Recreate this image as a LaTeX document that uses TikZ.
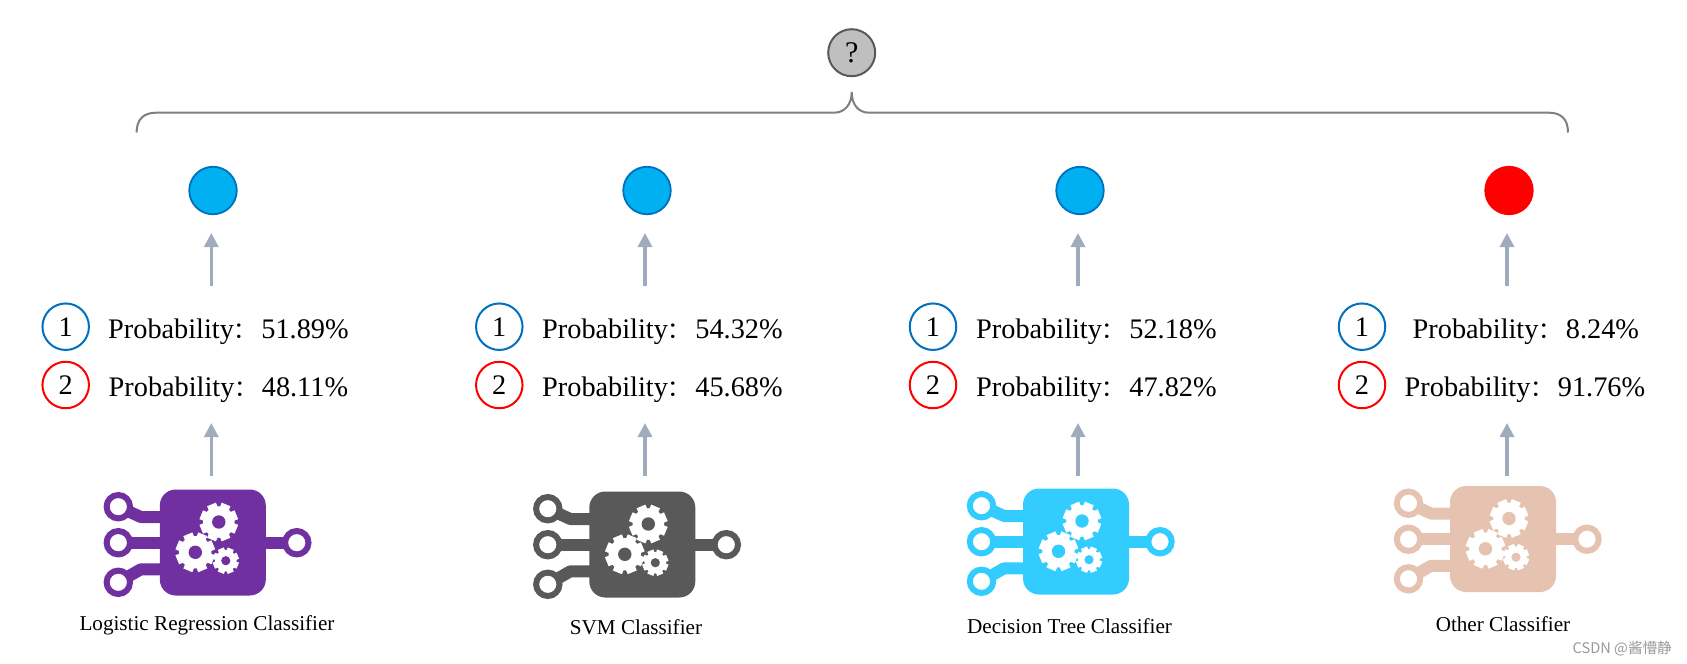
\documentclass[tikz,border=0pt]{standalone}
\usepackage{fontspec}
\setmainfont{Liberation Serif}
\newfontfamily\cjkfont{Noto Sans CJK SC}
\usetikzlibrary{arrows.meta}
\definecolor{arrowgray}{HTML}{A0ACBD}
\definecolor{ringblue}{HTML}{0070C0}
\definecolor{dotblue}{HTML}{00B0F0}
\definecolor{bracegray}{HTML}{7F7F7F}
\definecolor{iconpurple}{HTML}{7030A0}
\definecolor{icongray}{HTML}{595959}
\definecolor{iconblue}{HTML}{33CCFF}
\definecolor{iconbeige}{HTML}{E6C3B0}
\tikzset{
  x=1pt,y=-1pt,
  flow/.style={draw=arrowgray,line width=3.2pt,-{Triangle[width=14pt,length=14pt]}},
  numcirc/.style={circle,minimum size=46.5pt,inner sep=0pt,line width=2pt,font=\fontsize{28.3}{32}\selectfont},
  dot/.style={circle,minimum size=47.5pt,inner sep=0pt,line width=1.8pt},
  probtext/.style={anchor=base west,inner sep=0pt,font=\fontsize{28.3}{32}\selectfont},
  lbl/.style={inner sep=0pt,font=\fontsize{21.15}{25}\selectfont},
}
\newcommand{\prob}[1]{Probability\makebox[27.4pt][l]{\raisebox{-0.5pt}{\cjkfont\fontsize{23}{26}\selectfont ：}}#1}
\newcommand{\onegear}[5]{% x y r hole col
  \fill[white] (#1,#2) circle[radius=#3*0.83];
  \foreach \a in {0,45,...,315}
    \draw[white,line width=#3*0.5pt] (#1,#2) -- ++(\a+22.5:#3);
  \fill[#5] (#1,#2) circle[radius=#4];
}
\newcommand{\clficon}[3]{% x y colour
  \begin{scope}[shift={(#1,#2)}]
    \draw[#3,line width=12pt,line join=round] (-94.5,-35.8) -- (-72,-25.5) -- (-50,-25.5);
    \draw[#3,line width=12pt] (-94.5,0.2) -- (-50,0.2);
    \draw[#3,line width=12pt,line join=round] (-94.5,39.8) -- (-72,26.8) -- (-50,26.8);
    \draw[#3,line width=12pt] (50,0.2) -- (84,0.2);
    \fill[#3,rounded corners=16pt] (-53,-53) rectangle (53,53);
    \foreach \p in {(-94.5,-35.8),(-94.5,0.2),(-94.5,39.8),(84,0.2)}
      \draw[#3,line width=6pt,fill=white] \p circle[radius=11.7];
    \onegear{6}{-20.5}{19}{6.7}{#3}
    \onegear{-17.5}{9.8}{19.5}{6.7}{#3}
    \onegear{13}{18.2}{13}{4.6}{#3}
  \end{scope}
}
\begin{document}
\begin{tikzpicture}
\useasboundingbox (0,0) rectangle (1687,664);
% question node and brace
\node[circle,minimum size=47pt,inner sep=0pt,draw=black!65,line width=2pt,fill=black!25,font=\fontsize{30}{34}\selectfont] (q) at (851.7,52.7) {?};
\coordinate (bl) at (136.6,132.5);
\coordinate (br) at (1568,132.5);
\coordinate (bt) at (851.7,92);
\draw[bracegray,line width=2pt] (bl) .. controls (136.6,119) and (144,112.7) .. (156,112.7)
  -- (834,112.7) .. controls (845,112.7) and (851.7,104) .. (bt)
  .. controls (851.7,104) and (858,112.7) .. (869,112.7)
  -- (1549,112.7) .. controls (1561,112.7) and (1568,119) .. (br);
% result dots
\node[dot,draw=ringblue,fill=dotblue] (d1) at (213,190.5) {};
\node[dot,draw=ringblue,fill=dotblue] (d2) at (647,190.5) {};
\node[dot,draw=ringblue,fill=dotblue] (d3) at (1080,190.5) {};
\node[dot,draw=red,fill=red] (d4) at (1509,190.5) {};
% number circles
\foreach \n/\x in {1/65.7,2/499.3,3/933,4/1362}{
  \node[numcirc,draw=ringblue] (a\n) at (\x,326.7) {1};
  \node[numcirc,draw=red] (b\n) at (\x,385) {2};
}
% probability texts
\node[probtext] (pa1) at (108,338) {\prob{51.89\%}};
\node[probtext] (pb1) at (108.5,396) {\prob{48.11\%}};
\node[probtext] (pa2) at (542,338) {\prob{54.32\%}};
\node[probtext] (pb2) at (542,396) {\prob{45.68\%}};
\node[probtext] (pa3) at (976,338) {\prob{52.18\%}};
\node[probtext] (pb3) at (976,396) {\prob{47.82\%}};
\node[probtext] (pa4) at (1412.5,338) {\prob{8.24\%}};
\node[probtext] (pb4) at (1404.5,396) {\prob{91.76\%}};
% arrows
\foreach \n/\x in {1/211.3,2/645,3/1078,4/1507}{
  \coordinate (tf\n) at (\x,286);
  \coordinate (tt\n) at (\x,233);
  \coordinate (lf\n) at (\x,476);
  \coordinate (lt\n) at (\x,423);
  \draw[flow] (tf\n) -- (tt\n);
  \draw[flow] (lf\n) -- (lt\n);
}
% classifier icons
\clficon{212.8}{542.5}{iconpurple}
\clficon{642.3}{544.5}{icongray}
\clficon{1076}{541.5}{iconblue}
\clficon{1503}{539}{iconbeige}
% labels
\node[lbl] (l1) at (207,625) {Logistic Regression Classifier};
\node[lbl] (l2) at (636,627) {SVM Classifier};
\node[lbl] (l3) at (1069.6,626) {Decision Tree Classifier};
\node[lbl] (l4) at (1503,624) {Other Classifier};
% watermark
\node[anchor=base east,inner sep=0pt,text=black!40,font=\cjkfont\fontsize{14.6}{17}\selectfont] (wm) at (1672,653) {CSDN @酱懵静};
\end{tikzpicture}
\end{document}
